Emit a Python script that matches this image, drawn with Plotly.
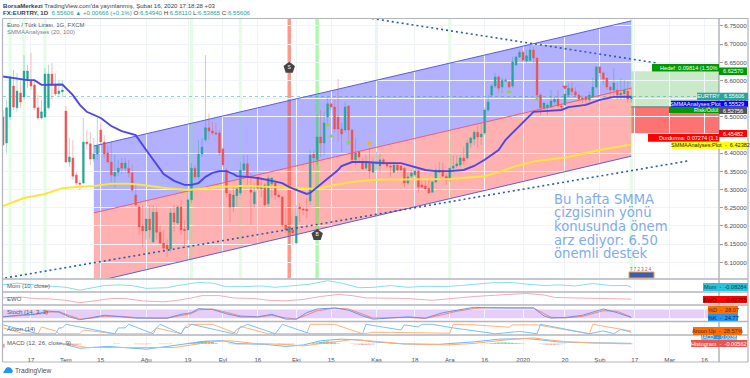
import plotly.graph_objects as go
from plotly.subplots import make_subplots

W, H = 750, 378
open_ = [6.500,6.428,6.500,6.585,6.525,6.566,6.555,6.601,
6.601,6.588,6.525,6.497,6.500,6.525,6.618,6.590,6.564,6.569,
6.516,6.376,6.387,6.340,6.318,6.318,6.431,6.426,6.384,6.398,
6.464,6.431,6.401,6.376,6.337,6.348,6.373,6.359,6.359,6.346,
6.285,6.252,6.200,6.186,6.219,6.156,6.238,6.183,6.153,6.148,
6.137,6.236,6.208,6.252,6.191,6.189,6.272,6.359,6.335,6.398,
6.437,6.470,6.461,6.456,6.456,6.412,6.354,6.288,6.252,6.283,
6.291,6.354,6.371,6.299,6.261,6.335,6.302,6.313,6.261,6.316,
6.318,6.285,6.280,6.203,6.183,6.189,6.153,6.252,6.247,6.246,
6.269,6.398,6.382,6.445,6.428,6.500,6.536,6.527,6.500,6.467,
6.464,6.530,6.464,6.382,6.404,6.376,6.359,6.373,6.348,6.371,
6.365,6.382,6.371,6.365,6.348,6.368,6.365,6.359,6.318,6.337,
6.340,6.351,6.313,6.310,6.304,6.293,6.321,6.348,6.354,6.337,
6.327,6.359,6.365,6.368,6.387,6.387,6.428,6.439,6.458,6.445,
6.456,6.519,6.560,6.585,6.610,6.582,6.598,6.596,6.585,6.643,
6.665,6.678,6.654,6.656,6.684,6.662,6.560,6.525,6.525,6.527,
6.541,6.549,6.530,6.533,6.560,6.579,6.569,6.560,6.552,6.555,
6.547,6.555,6.582,6.637,6.621,6.607,6.582,6.574,6.574,6.560,
6.563,6.571,6.5494]
high = [6.519,6.547,6.612,6.629,6.621,6.601,6.670,6.643,
6.676,6.601,6.560,6.547,6.634,6.643,6.648,6.621,6.601,6.601,
6.530,6.442,6.437,6.348,6.327,6.497,6.464,6.458,6.442,6.497,
6.484,6.450,6.420,6.431,6.395,6.382,6.387,6.387,6.382,6.368,
6.313,6.258,6.258,6.252,6.258,6.258,6.252,6.203,6.189,6.162,
6.249,6.258,6.258,6.272,6.217,6.299,6.373,6.368,6.437,6.442,
6.670,6.508,6.486,6.483,6.464,6.417,6.359,6.299,6.307,6.313,
6.376,6.395,6.395,6.346,6.318,6.348,6.332,6.318,6.340,6.335,
6.327,6.288,6.283,6.252,6.208,6.197,6.258,6.263,6.252,6.277,
6.409,6.409,6.505,6.519,6.514,6.552,6.552,6.547,6.604,6.483,
6.541,6.533,6.467,6.442,6.409,6.387,6.395,6.415,6.390,6.404,
6.401,6.387,6.379,6.376,6.376,6.373,6.368,6.362,6.346,6.354,
6.359,6.359,6.332,6.332,6.332,6.324,6.359,6.376,6.373,6.346,
6.401,6.395,6.395,6.395,6.417,6.437,6.445,6.464,6.478,6.486,
6.525,6.560,6.590,6.621,6.615,6.607,6.607,6.601,6.665,6.668,
6.684,6.684,6.684,6.698,6.692,6.665,6.566,6.541,6.538,6.574,
6.555,6.574,6.538,6.582,6.593,6.596,6.582,6.569,6.560,6.558,
6.569,6.607,6.640,6.640,6.624,6.607,6.588,6.634,6.593,6.607,
6.601,6.596,6.5811]
low = [6.420,6.401,6.492,6.519,6.514,6.525,6.547,6.579,
6.574,6.519,6.492,6.492,6.497,6.519,6.547,6.558,6.558,6.555,
6.373,6.362,6.327,6.313,6.299,6.315,6.409,6.368,6.376,6.382,
6.423,6.387,6.371,6.313,6.307,6.337,6.343,6.348,6.332,6.293,
6.252,6.175,6.142,6.162,6.167,6.153,6.162,6.148,6.128,6.115,
6.128,6.183,6.203,6.175,6.139,6.162,6.263,6.327,6.327,6.390,
6.431,6.437,6.450,6.450,6.395,6.362,6.280,6.211,6.238,6.252,
6.285,6.346,6.307,6.203,6.249,6.299,6.280,6.252,6.252,6.280,
6.272,6.277,6.197,6.181,6.153,6.148,6.150,6.211,6.230,6.222,
6.258,6.354,6.368,6.390,6.395,6.483,6.519,6.458,6.431,6.404,
6.458,6.423,6.376,6.368,6.376,6.354,6.354,6.332,6.346,6.354,
6.346,6.368,6.359,6.335,6.346,6.348,6.348,6.307,6.313,6.332,
6.335,6.291,6.304,6.299,6.288,6.291,6.318,6.346,6.335,6.313,
6.321,6.348,6.359,6.362,6.368,6.382,6.415,6.423,6.417,6.423,
6.450,6.514,6.555,6.579,6.566,6.566,6.596,6.579,6.579,6.640,
6.662,6.651,6.648,6.651,6.648,6.555,6.505,6.514,6.505,6.525,
6.533,6.525,6.519,6.530,6.555,6.560,6.555,6.547,6.538,6.536,
6.538,6.552,6.579,6.610,6.588,6.574,6.560,6.555,6.547,6.547,
6.547,6.538,6.5387]
close = [6.423,6.525,6.610,6.527,6.571,6.541,6.626,6.626,
6.585,6.525,6.497,6.514,6.618,6.618,6.590,6.563,6.571,6.574,
6.376,6.390,6.337,6.318,6.315,6.431,6.426,6.384,6.398,6.420,
6.431,6.398,6.376,6.340,6.348,6.359,6.359,6.373,6.346,6.299,
6.258,6.197,6.186,6.219,6.189,6.238,6.183,6.153,6.139,6.137,
6.236,6.211,6.252,6.189,6.187,6.272,6.359,6.335,6.398,6.417,
6.470,6.461,6.456,6.453,6.401,6.368,6.291,6.252,6.285,6.302,
6.354,6.371,6.335,6.293,6.293,6.304,6.310,6.258,6.332,6.332,
6.285,6.280,6.203,6.189,6.197,6.181,6.227,6.247,6.244,6.242,
6.395,6.387,6.445,6.428,6.483,6.536,6.527,6.467,6.467,6.453,
6.527,6.464,6.382,6.401,6.390,6.357,6.373,6.351,6.373,6.376,
6.382,6.371,6.365,6.362,6.368,6.354,6.354,6.318,6.335,6.346,
6.351,6.307,6.307,6.302,6.291,6.321,6.354,6.354,6.337,6.327,
6.359,6.365,6.371,6.387,6.379,6.428,6.442,6.458,6.445,6.453,
6.519,6.541,6.585,6.610,6.579,6.601,6.601,6.582,6.651,6.665,
6.678,6.656,6.668,6.684,6.662,6.560,6.525,6.538,6.533,6.544,
6.549,6.530,6.527,6.563,6.579,6.569,6.560,6.549,6.549,6.547,
6.560,6.582,6.637,6.621,6.604,6.582,6.574,6.593,6.560,6.566,
6.574,6.549,6.5561]
bars = list(range(-8, -8 + len(close)))

smma20_x = [-8,-1,1,3,9,12,14,16,20,23,26,30,33,36,38,41,44,46,48,50,52,54,56,58,59,62,65,69,72,74,76,79,80,82,85,88,89,92,96,101,106,109,113,116,120,124,127,130,132,134,136,138,141,144,147,152,154,159,163,167,172]
smma20_y = [6.611,6.601,6.601,6.588,6.589,6.560,6.533,6.514,6.497,6.475,6.461,6.450,6.409,6.368,6.343,6.324,6.313,6.313,6.318,6.335,6.346,6.351,6.351,6.343,6.337,6.335,6.332,6.324,6.318,6.307,6.299,6.288,6.291,6.307,6.332,6.354,6.365,6.376,6.376,6.373,6.373,6.365,6.354,6.351,6.351,6.354,6.365,6.382,6.395,6.409,6.437,6.456,6.486,6.514,6.516,6.519,6.527,6.533,6.547,6.555,6.5553]
smma100_x = [-8,-2,4,9,13,18,23,28,32,39,45,49,53,60,63,69,75,82,87,92,99,106,112,120,130,134,139,145,154,163,172]
smma100_y = [6.255,6.277,6.288,6.304,6.307,6.310,6.316,6.316,6.313,6.304,6.299,6.302,6.307,6.310,6.310,6.307,6.304,6.302,6.313,6.321,6.327,6.327,6.327,6.329,6.337,6.348,6.365,6.379,6.390,6.409,6.4238]

channel_x = [18, 172]
channel_top = [6.420, 6.764]
channel_mid = [6.236, 6.579]
channel_bottom = [6.046, 6.392]
trend_down_x, trend_down_y = [97.7, 179.4], [6.7706, 6.648]
trend_up_x, trend_up_y = [-7.4, 188.3], [6.057, 6.379]
last_price = 6.55606
entry, target, stop = 6.52756, 6.62570, 6.45482
light_bands = [-6, -2, 4, 46, 60, 99, 120, 172]
sell_band, buy_band = 74, 82
sell_y, buy_y = 6.635, 6.175

up_marks_x, up_marks_y = [85, 86, 91, 137, 145], [6.478, 6.447, 6.431, 6.569, 6.549]
flag_x, flag_y = [97], [6.428]
down_x, down_y = [153], [6.582]

mom_x = [-8,-4,1,5,10,14,17,21,25,29,33,39,42,45,48,52,56,61,66,70,75,80,85,89,94,98,103,108,113,118,123,127,132,138,142,147,151,156,161,166,171,172]
mom_y = [.036,.12,.036,-.014,-.08,-.215,-.13,.003,.036,.003,-.13,-.1,.003,.07,.153,.12,-.048,-.048,-.014,-.08,.003,.07,.236,.12,-.1,-.08,.003,-.08,-.03,-.048,.003,.07,.136,.153,.07,.003,.036,-.014,.103,.003,.003,-.083]
ewo_x = [-8,-3,1,5,10,14,18,23,27,32,38,42,46,49,54,58,64,68,73,78,83,88,92,96,98,103,108,115,120,127,137,142,147,150,156,166,172]
ewo_y = [.003,.023,-.01,-.017,-.05,-.104,-.064,-.01,-.01,-.064,-.084,-.05,.003,.056,.056,.003,-.01,-.05,-.064,-.03,.036,.083,.056,.003,.003,.003,-.01,-.05,-.017,.036,.083,.103,.07,.016,.003,-.004,-.0235]
stoch_x = [-8,-3,1,5,8,11,14,17,21,26,30,35,39,43,46,48,52,56,60,65,69,73,76,79,82,87,91,95,98,108,113,118,122,127,132,137,144,147,149,153,158,164,168,172]
stoch_k = [29,42,47,69,62,29,9,24,40,29,20,20,20,47,58,87,80,51,29,29,47,13,13,58,84,91,76,36,13,29,20,58,76,96,91,91,91,36,20,24,40,84,58,24.77]
stoch_d = [30,38,45,62,66,38,14,18,34,32,24,20,20,38,52,78,85,60,36,28,40,22,14,42,72,90,84,48,20,25,18,45,68,88,94,92,92,52,26,22,32,72,68,28.07]
aroon_down_x = [-8,2,7,8,9,10,24,25,27,28,35,36,37,43,44,45,46,58,59,62,70,72,80,95,96,106,107,111,112,115,121,127,133,140,145,146,160,164,167,169,172]
aroon_down_y = [94,0,0,62,62,100,0,62,62,100,0,62,100,0,62,70,100,0,47,100,0,100,0,0,100,40,94,72,100,100,62,31,0,25,0,100,0,31,0,47,15]
aroon_up_x = [-8,-2,2,3,7,8,14,15,24,34,36,43,44,45,52,59,60,68,79,80,87,95,98,103,120,121,127,137,138,145,160,161,172]
aroon_up_y = [62,0,0,72,31,0,0,40,0,0,62,0,62,100,100,0,78,0,0,100,100,0,15,15,6,100,94,69,94,94,0,100,28.57]
macd_x = [9,14,22,33,39,45,50,55,59,67,73,78,83,89,95,98,107,117,127,134,142,147,151,161,172]
macd_y = [-.003,-.05,-.03,-.06,-.03,.003,.028,.032,0,-.007,-.03,-.014,.032,.05,.038,.02,-.003,-.007,.02,.049,.056,.038,.02,.01,.0038]
signal_x = [9,16,22,33,41,46,52,57,64,72,78,85,92,98,107,119,127,137,144,149,154,161,172]
signal_y = [.003,-.042,-.042,-.042,-.042,-.014,.02,.032,.003,-.007,-.024,.01,.045,.028,-.003,-.014,.003,.045,.063,.038,.02,.007,.0005]
hist_pos_x = [45,46,47,48,49,50,51,52,53,81,82,83,84,85,86,87,88,131,132,133,134,135,136,137,138,139,140,141]
hist_pos_y = [.004,.008,.014,.02,.024,.026,.024,.016,.006,.006,.012,.018,.022,.024,.02,.012,.004,.003,.006,.009,.011,.012,.012,.011,.009,.007,.005,.003]
hist_neg_x = [-8,10,11,12,13,14,24,25,30,31,32,33,34,37,38,39,40,57,58,59,60,61,62,71,72,73,74,75,92,93,94,95,96,97,98,146,147,148,149,150,151,152,153,167,168,169,170,171,172]
hist_neg_y = [-.045,-.008,-.014,-.014,-.012,-.008,-.004,-.004,-.005,-.006,-.006,-.006,-.005,-.004,-.005,-.005,-.004,-.004,-.006,-.007,-.007,-.005,-.003,-.006,-.01,-.012,-.01,-.006,-.004,-.007,-.01,-.012,-.012,-.01,-.008,-.004,-.008,-.01,-.011,-.011,-.009,-.006,-.003,-.004,-.005,-.006,-.006,-.0056,-.0056]

tick_vals = [0,10,20,33,45,55,65,76,86,99,110,120,130,141,153,163,173,183,193]
tick_text = ['17','Tem','15','Ağu','19','Eyl','16','Eki','15','Kas','18','Ara','16','2020','20','Şub','17','Mar','16']
price_ticks = [6.10,6.15,6.20,6.25,6.30,6.35,6.40,6.50,6.55,6.60,6.65,6.70,6.75]

note_lines = ['Bu hafta SMMA', 'çizgisinin yönü', 'konusunda önem', 'arz ediyor: 6.50', 'önemli destek']
note_rows = [199, 212.5, 226.5, 240, 253]

TEAL, RED = '#26a69a', '#ef5350'
GRID = '#f0f3fa'
FRAME = '#b2b5be'
XR = [-8.02, 197.14]
px = lambda v: v / W
py = lambda v: 1 - v / H

panels = [(18.5, 278.5), (280, 291.5), (293, 304.5), (306, 321), (322.5, 334.5), (336, 351)]
fig = make_subplots(rows=6, cols=1, shared_xaxes=True)
ranges = [[6.0556, 6.7706], [-.28, .27], [-.145, .115], [0, 105], [-7.5, 119], [-.08, .084]]
for r, (p, rg) in enumerate(zip(panels, ranges), 1):
    fig.update_yaxes(domain=[py(p[1]), py(p[0])], range=rg, row=r, col=1, side='right',
                     showgrid=False, zeroline=False, showticklabels=False, ticks='')
    fig.update_xaxes(domain=[px(3), px(719)], range=XR, row=r, col=1, tickmode='array',
                     tickvals=tick_vals, ticktext=tick_text, showgrid=True, gridcolor=GRID,
                     gridwidth=1, zeroline=False, showline=False, ticks='',
                     showticklabels=False, rangeslider_visible=False)
fig.update_yaxes(row=1, col=1, showgrid=True, gridcolor=GRID, showticklabels=True, tickmode='array',
                 tickvals=price_ticks, tickformat='.5f', ticks='outside', ticklen=3, tickcolor='#9a9ea8',
                 tickfont=dict(size=6.2, color='#4a4e59', family='Liberation Sans'))
fig.update_xaxes(row=6, col=1, showticklabels=True, ticks='outside', ticklen=3, tickcolor='rgba(0,0,0,0)',
                 tickfont=dict(size=6.2, color='#4a4e59', family='Liberation Sans'))

shapes = []
def shp(**k):
    k.setdefault('layer', 'below')
    k.setdefault('line_width', 0)
    shapes.append(k)

# Channel
shp(type='path', xref='x', yref='y',
    path=f'M{channel_x[0]},{channel_top[0]} L{channel_x[1]},{channel_top[1]} L{channel_x[1]},{channel_mid[1]} L{channel_x[0]},{channel_mid[0]} Z',
    fillcolor='rgba(60,60,255,0.40)')
shp(type='path', xref='x', yref='y',
    path=f'M{channel_x[0]},{channel_mid[0]} L{channel_x[1]},{channel_mid[1]} L{channel_x[1]},{channel_bottom[1]} L{channel_x[0]},{channel_bottom[0]} Z',
    fillcolor='rgba(255,60,60,0.40)')
# Risk / reward boxes
shp(type='rect', xref='x', yref='y', x0=172, x1=XR[1], y0=entry, y1=target, fillcolor='rgba(120,200,120,0.40)')
shp(type='rect', xref='x', yref='y', x0=172, x1=XR[1], y0=stop, y1=entry, fillcolor='rgba(255,60,60,0.72)')
# Signal bands
for b in light_bands:
    shp(type='rect', xref='x', yref='y', x0=b - .45, x1=b + .45, y0=ranges[0][0], y1=ranges[0][1], fillcolor='rgba(120,240,120,0.20)')
shp(type='rect', xref='x', yref='y', x0=sell_band - .5, x1=sell_band + .5, y0=ranges[0][0], y1=ranges[0][1], fillcolor='rgba(255,70,40,0.55)')
shp(type='rect', xref='x', yref='y', x0=buy_band - .5, x1=buy_band + .5, y0=ranges[0][0], y1=ranges[0][1], fillcolor='rgba(60,240,60,0.42)')
# Stochastic band
shp(type='rect', xref='x', yref='y4', x0=XR[0], x1=XR[1], y0=20, y1=80, fillcolor='#e6cdfa')
for lv in (20, 80):
    shp(type='line', xref='x', yref='y4', x0=XR[0], x1=XR[1], y0=lv, y1=lv, line=dict(color='#8a8a95', width=1, dash='dash'))

def add_line(x, y, color, width, row, dash=None, name=None):
    fig.add_trace(go.Scatter(x=x, y=y, mode='lines', line=dict(color=color, width=width, dash=dash),
                             hoverinfo='skip', showlegend=False), row=row, col=1)

for ys in (channel_top, channel_bottom):
    add_line(channel_x, ys, '#5a5aef', 1, 1)
add_line(channel_x, channel_mid, '#ef5a7a', 1, 1)

fig.add_trace(go.Candlestick(x=bars, open=open_, high=high, low=low, close=close, whiskerwidth=0,
    increasing=dict(line=dict(color='rgba(38,166,154,0.42)', width=0.9), fillcolor=TEAL),
    decreasing=dict(line=dict(color='rgba(239,83,80,0.42)', width=0.9), fillcolor=RED),
    hoverinfo='skip', showlegend=False), row=1, col=1)

add_line([XR[0], XR[1]], [last_price, last_price], 'rgba(38,166,154,0.55)', 0.9, 1, dash='dot')
add_line(smma100_x, smma100_y, '#fbe63c', 2, 1)
add_line(smma20_x, smma20_y, '#4d46e8', 1.9, 1)
add_line(trend_down_x, trend_down_y, '#2a5cac', 1.6, 1, dash='2px,3px')
add_line(trend_up_x, trend_up_y, '#2a5cac', 1.6, 1, dash='2px,3px')
add_line([172, XR[1]], [entry, entry], '#6d6d6d', 1, 1)

def markers(x, y, sym, color, size=5):
    fig.add_trace(go.Scatter(x=x, y=y, mode='markers', marker=dict(symbol=sym, color=color, size=size),
                             hoverinfo='skip', showlegend=False), row=1, col=1)
markers(up_marks_x, up_marks_y, 'triangle-up', '#92d050')
markers(flag_x, flag_y, 'diamond', '#f5b800', 4)
markers(down_x, down_y, 'triangle-down', '#ef5350')
fig.add_trace(go.Scatter(x=[sell_band, buy_band], y=[sell_y, buy_y], mode='markers+text', text=['S', 'B'],
    textposition='middle center', textfont=dict(size=5, color='#ffffff'),
    marker=dict(symbol='pentagon', size=12, color='#444444'), hoverinfo='skip', showlegend=False), row=1, col=1)

add_line(mom_x, mom_y, '#84dfe8', 1, 2)
add_line(ewo_x, ewo_y, '#f6aab0', 1, 3)
add_line(stoch_x, stoch_d, '#f2806a', 0.9, 4)
add_line(stoch_x, stoch_k, '#5f8de8', 0.9, 4)
add_line(aroon_up_x, aroon_up_y, '#ffb27a', 1, 5)
add_line(aroon_down_x, aroon_down_y, '#7cc0f4', 1, 5)
fig.add_trace(go.Bar(x=hist_pos_x, y=hist_pos_y, marker_color='rgba(38,166,154,0.75)', marker_line_width=0, width=.9, hoverinfo='skip', showlegend=False), row=6, col=1)
fig.add_trace(go.Bar(x=hist_neg_x, y=hist_neg_y, marker_color='rgba(239,83,80,0.6)', marker_line_width=0, width=.9, hoverinfo='skip', showlegend=False), row=6, col=1)
add_line(macd_x, macd_y, '#6fb6f2', 1, 6)
add_line(signal_x, signal_y, '#ffae70', 1, 6)

# Frame
def frame(x0, y0, x1, y1, c=FRAME, w=1.2):
    shapes.append(dict(type='line', xref='paper', yref='paper', x0=px(x0), x1=px(x1), y0=py(y0), y1=py(y1),
                       line=dict(color=c, width=w), layer='above'))
frame(2.5, 18.5, 748, 18.5)
frame(2.5, 18.5, 2.5, 362)
frame(2.5, 362, 748, 362)
frame(748, 18.5, 748, 362)
frame(719, 18.5, 719, 362, '#8d9099', 1)
for yy in (279, 292, 305, 321.5, 335):
    frame(2.5, yy, 748, yy, FRAME, 1.5)

ann = []
def txt(x, y, t, size=6, color='#222', anchor='left', fam='Liberation Sans'):
    ann.append(dict(xref='paper', yref='paper', x=px(x), y=py(y), text=t, showarrow=False, xanchor=anchor,
                    yanchor='middle', font=dict(size=size, color=color, family=fam), borderpad=0, borderwidth=0))
def label(x0, x1, y0, y1, bg, t, color='#fff', anchor='center', size=5.6):
    shapes.append(dict(type='rect', xref='paper', yref='paper', x0=px(x0), x1=px(x1), y0=py(y1), y1=py(y0),
                       fillcolor=bg, line_width=0, layer='above'))
    xpos = (x0 + x1) / 2 if anchor == 'center' else (x1 - 1.5 if anchor == 'right' else x0 + 1.5)
    txt(xpos, (y0 + y1) / 2, t, size, color, anchor)

GREEN = '#009900'
label(652, 719, 64, 71.5, GREEN, 'Hedef: 0.09814 (1.50%', anchor='right')
label(719, 747, 67.5, 75, GREEN, '6.62570')
label(697, 719, 92.7, 100, TEAL, 'EURTRY')
label(719, 748, 92.7, 100, TEAL, '6.55606')
label(669, 719, 107, 113, GREEN, 'Risk/Ödül', anchor='right')
label(719, 747, 107, 114, '#555555', '6.52756')
label(671, 719, 100.7, 106.8, '#0000ff', 'SMMAAnalyses:Plot')
label(719, 748, 100.7, 106.8, '#0000ff', '6.55529')
label(719, 747, 130, 137, '#ff0000', '6.45482')
label(648, 719, 134, 141.7, '#ff0000', 'Durdurma: 0.07274 (1.1', anchor='right')
label(672, 748, 141.7, 148.7, '#ffff00', 'SMMAAnalyses:Plot  -  6.42382', color='#222')
label(703, 748, 283, 291, '#26c6da', 'Mom  -  -0.08284', color='#1a3a40')
label(703, 747, 296, 303, '#ff0000', 'EWO  -  -0.02355', color='#5a0000')
label(708, 738, 306, 314, '#ff6d00', '%D  -  28.07', color='#5a2a00')
label(708, 738, 314, 321, '#2196f3', '%K  -  24.77', color='#0a2a50')
label(701, 737, 335, 339.5, '#2196f3', 'MACD  -  0.00383', size=5)
label(693, 742, 327, 335, '#ff6d00', 'Aroon Up  -  28.57%', color='#5a2a00')
label(691, 747, 340, 347, '#ef5350', 'Histogram  -  -0.00562', color='#ffffff')

txt(3, 5.5, "<b>BorsaMerkezi</b> TradingView.com'da yayınlanmış, Şubat 16, 2020 17:18:28 +03", 6.1, '#3a3d46')
g = lambda s: f'<span style="color:{TEAL}">{s}</span>'
txt(3, 12, f'<b>FX:EURTRY, 1D</b>  {g("6.55606 ▲ +0.00666 (+0.1%)")} O:{g("6.54940")} H:{g("6.58110")} L:{g("6.53865")} C:{g("6.55606")}', 6.1, '#3a3d46')
txt(7, 25, 'Euro / Türk Lirası, 1G, FXCM', 6, '#55585f')
txt(7, 32.5, 'SMMAAnalyses (20, 100)', 6, '#7d808a')
txt(7, 285.5, 'Mom (10, close)', 6, '#55585f')
txt(7, 299, 'EWO', 6, '#55585f')
txt(7, 312, 'Stoch (14, 3, 3)', 6, '#55585f')
txt(7, 329, 'Aroon (14)', 6, '#55585f')
txt(7, 342.5, 'MACD (12, 26, close, 9)', 6, '#55585f')
for line, row in zip(note_lines, note_rows):
    txt(554, row, line, 13.2, '#7fabf0', fam='DejaVu Sans')

txt(630, 269.5, '7 7 2 3 2 4', 4.5, '#c0504d')
shapes.append(dict(type='rect', xref='paper', yref='paper', x0=px(629), x1=px(654), y0=py(278), y1=py(272),
                   fillcolor='#3a5fb0', line=dict(color='#f2a14a', width=1), layer='above'))
# TradingView mark
shapes.append(dict(type='path', xref='paper', yref='paper', fillcolor='#2196f3', line_width=0, layer='above',
                   path=f'M{px(3)},{py(373)} L{px(6)},{py(368)} L{px(8)},{py(367)} L{px(11)},{py(368)} L{px(13)},{py(371)} L{px(12)},{py(373)} Z'))
txt(14.5, 370.5, 'TradingView', 6.6, '#4a4e59')

fig.update_layout(width=W, height=H, autosize=False, margin=dict(l=0, r=0, t=0, b=0),
                  paper_bgcolor='white', plot_bgcolor='white', showlegend=False, barmode='overlay',
                  boxgap=0.2, shapes=shapes, annotations=ann, hovermode=False,
                  font=dict(family='Liberation Sans'))
fig.write_html('out.html', include_plotlyjs=True, config=dict(displayModeBar=False),
               post_script="document.body.style.margin='0';document.documentElement.style.overflow='hidden';")
